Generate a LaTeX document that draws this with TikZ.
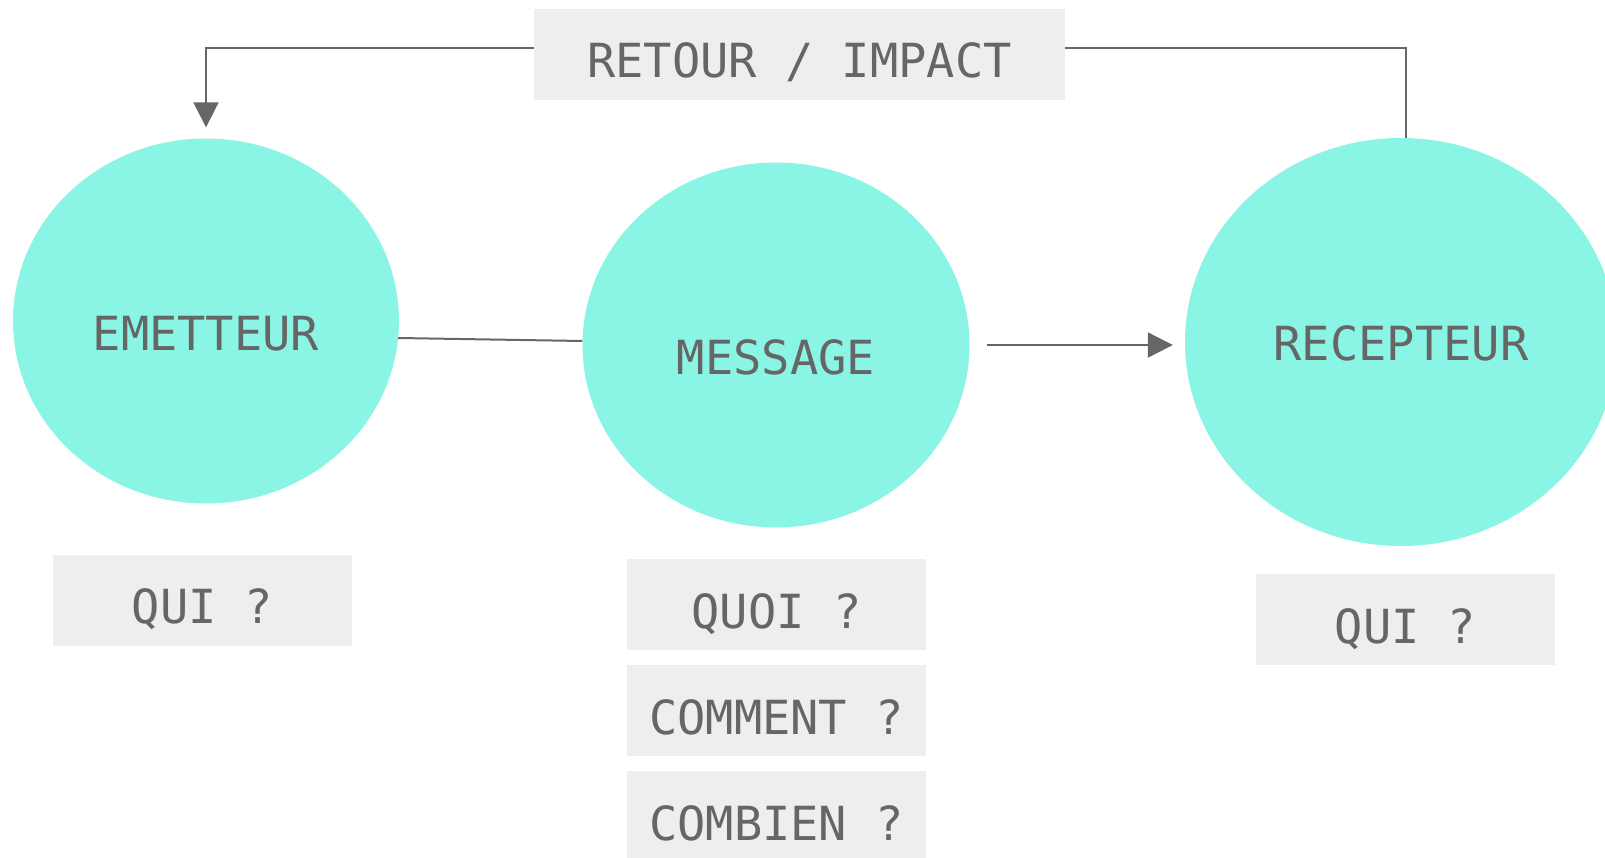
\documentclass[tikz,border=0pt]{standalone}
\usepackage{fontspec}
\setmonofont{DejaVu Sans Mono}
\usepackage{xcolor}
\usetikzlibrary{positioning, arrows.meta, shapes.geometric}

\definecolor{bulleFond}{HTML}{8AF5E4}
\definecolor{texteGris}{HTML}{666666}
\definecolor{boiteFond}{HTML}{EEEEEE}

\begin{document}
\begin{tikzpicture}[
  x=1pt, y=-1pt,
  every node/.style={font=\ttfamily\fontsize{47}{50}\selectfont, text=texteGris},
  fleche/.style={-{Triangle[length=25pt, width=25pt]}, line width=2.2pt, draw=texteGris},
  trait/.style={line width=2pt, draw=texteGris},
  bulle/.style={ellipse, fill=bulleFond, inner sep=0pt, text height=58pt, text depth=0pt},
  boite/.style={fill=boiteFond, inner sep=0pt, minimum width=299pt, minimum height=91pt,
                text height=47pt, text depth=0pt}
]
\useasboundingbox (0,0) rectangle (1605,858);

%% Les trois bulles
\node[bulle, minimum width=386pt, minimum height=365pt] (emetteur) at (206,321) {EMETTEUR};
\node[bulle, minimum width=387pt, minimum height=365pt] (message) at (776,345) {MESSAGE};
\node[bulle, minimum width=432pt, minimum height=408pt, text height=36pt] (recepteur)
  at (1401,342) {RECEPTEUR};

%% Retour
\node[boite, minimum width=531pt] (retour) at (799.5,54.5) {RETOUR / IMPACT};

%% Questions
\node[boite] (qui1) at (202.5,600) {QUI ?};
\node[boite] (quoi) at (776.5,604.5) {QUOI ?};
\node[boite] (comment) at (776.5,710.5) {COMMENT ?};
\node[boite] (combien) at (776.5,816.5) {COMBIEN ?};
\node[boite] (qui2) at (1405.5,619.5) {QUI ?};

%% ---- Connecteurs ----
% Emetteur -- Message
\draw[trait] ([xshift=-1pt, yshift=-17pt]emetteur.east) -- ([yshift=4pt]message.west);

% Message -> Recepteur
\draw[fleche] ([xshift=17pt]message.east) -- ([xshift=-12pt]message.east -| recepteur.west);

% Retour vers l'emetteur
\draw[fleche, line width=2pt, shorten >=11pt] ([yshift=6.5pt]retour.west) -| (emetteur.north);
\draw[trait] ([yshift=6.5pt]retour.east) -| ([xshift=5pt]recepteur.north);

\end{tikzpicture}
\end{document}
